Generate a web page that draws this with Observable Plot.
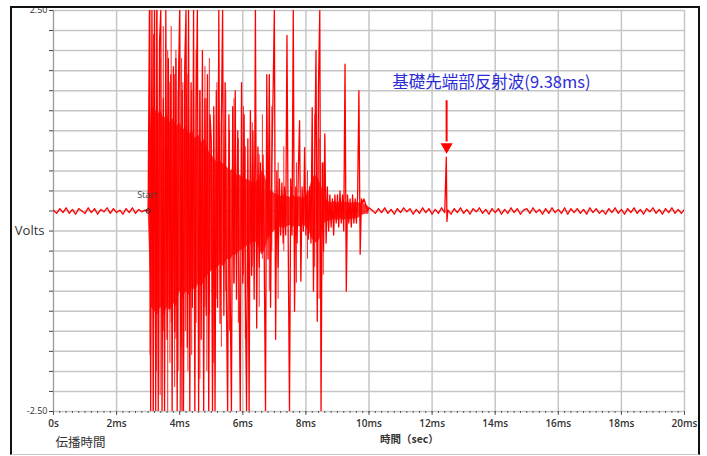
<!DOCTYPE html>
<html>
<head>
<meta charset="utf-8">
<script src="https://cdn.jsdelivr.net/npm/d3@7"></script>
<script src="https://cdn.jsdelivr.net/npm/@observablehq/plot@0.6"></script>
<style>
  html, body { margin: 0; padding: 0; background: #fff; }
  #wrap { position: relative; width: 707px; height: 456px; overflow: hidden; }
  #wrap svg { position: absolute; left: 0; top: 0; }
  #frame { position: absolute; left: 10px; top: 6px; width: 690px; height: 449px; box-sizing: border-box;
           border-left: 2px solid #111; border-top: 2px solid #111; border-right: 2px solid #111; border-bottom: 1px solid #c8c8c8;
           pointer-events: none; }
</style>
</head>
<body>
<div id="wrap"><div id="frame"></div></div>
<script>
// ---- data ----
// pre-trigger noise, sampled every 0.1 ms from 0 ms
const preStart = 0.0, preDt = 0.1;
const preNoise = [0.01,-0.03,0.03,-0.02,0.04,-0.03,0.02,-0.04,0.03,0.00,
                  -0.03,0.04,-0.02,0.03,-0.04,0.02,-0.01,0.04,-0.03,0.03,
                  -0.02,0.01,-0.04,0.03,-0.02,0.04,-0.03,0.02,-0.01,0.01];
// burst, sampled every 0.04 ms from 3.00 ms
const burstStart = 3.0, burstDt = 0.04;
const burstV = [
  0, 2.5, -2.5, 2.5, -2.5,
  2.5, -2.5, 2.5, -2.5, 2.1,
  2.5, -2.5, 1.4, -2.5, 2.5,
  -1.6, 1.9, -1.2, 1.7, -2.5,
  1.8, -1.5, 1.9, -2.5, 1.6,
  2.5, -2.5, 1.5, -2.5, 1.8,
  2.5, -1.7, 2.5, -2.5, 1.6,
  -1.2, 2.5, -2.5, 1.3, 2.5,
  -2.5, 1.5, -1.6, 2.0, -2.5,
  1.4, -1.3, 1.7, -2.5, 1.2,
  0.9, -2.5, 1.3, -2.5, 1.5,
  -1.2, 2.5, -1.4, 1.1, 2.5,
  -1.3, 1.6, -1.1, -2.5, 1.2,
  -1.0, -2.5, 1.3, -0.9, 1.5,
  -1.1, 1.0, -0.8, -2.5, 1.6,
  -0.9, 1.2, -1.0, -2.5, 0.9,
  -2.5, 1.25, -0.8, 1.0, -1.1,
  2.5, -1.46, 0.8, -0.7, 0.6,
  -0.5, 0.7, -0.6, -2.5, 1.7,
  -0.6, 1.7, -1.2, 0.6, 1.46,
  2.5, -1.6, 0.5, -0.7, 0.4,
  -0.3, 0.35, -0.4, 0.3, -0.3,
  2.19, -0.4, -2.5, 0.4, -0.3,
  2.5, -1.25, 0.3, -0.4, 0.5,
  1.125, -0.875, 0.3, -0.25, 0.79,
  -0.3, 0.25, -0.35, 0.3, -0.4,
  1.29, -1.0, 0.6, 2.0, -1.375,
  1.58, 2.5, -2.5, 0.6, -0.5,
  0.96, -0.4, 0.3, -0.25, 0.2,
  -0.2, 0.15, -0.3, 0.2, -0.15,
  0.2, -0.2, 0.25, -0.15, 0.2,
  -0.25, 1.83, -1.0, 0.2, -0.15,
  0.15, -0.2, 0.2, -0.15, 0.15,
  -0.15, 0.2, 1.5, -0.54, 0.15,
  0.1, 0.15, 0.1, 0.05, 0.0
];
// extra individual spikes inside the burst: time (ms), top (V), bottom (V)
const spikeT  = [3.06, 3.17, 3.26, 3.38, 3.48, 3.62, 3.69, 3.73, 3.84, 3.88, 3.95, 4.06, 4.10, 4.18, 4.26, 4.38, 4.52, 4.64, 4.80, 4.86, 4.94,
                 5.08, 5.18, 5.32, 5.46, 5.58, 5.72, 5.86, 6.02, 6.08, 6.30, 6.52, 6.62, 6.84, 6.92, 7.12, 7.30, 7.70, 8.05, 8.28, 8.42, 8.55];
const spikeHi = [2.5, 2.2, 2.5, 1.9, 2.3, 2.0, 1.6, 2.3, 1.7, 2.0, 1.5, 1.9, 1.6, 2.1, 1.7, 1.5, 2.0, 1.5, 1.8, 1.4, 1.9,
                 1.2, 1.6, 1.1, 1.5, 1.0, 1.4, 0.9, 1.3, 0.8, 1.1, 0.7, 1.2, 0.9, 1.3, 0.6, 0.8, 0.6, 0.5, 1.2, 0.9, 0.6];
const spikeLo = [-1.8, -2.5, -2.0, -2.3, -1.5, -2.5, -1.9, -1.4, -2.2, -1.6, -2.0, -1.7, -2.5, -1.5, -2.0, -1.8, -1.4, -2.1, -1.2, -2.0, -1.3,
                 -1.9, -1.1, -1.7, -1.0, -1.5, -0.9, -1.4, -0.8, -1.6, -0.7, -1.2, -0.6, -1.0, -0.5, -1.1, -0.5, -0.9, -0.6, -0.7, -1.1, -0.8];
// dense body of the burst: time (ms), upper and lower edge (V)
const bodyT  = [3.0, 3.1, 3.2, 3.3, 3.4, 3.5, 3.6, 3.7, 3.8, 3.9,
                4.0, 4.1, 4.2, 4.3, 4.4, 4.5, 4.6, 4.7, 4.8, 4.9,
                5.0, 5.1, 5.2, 5.3, 5.4, 5.5, 5.6, 5.7, 5.8, 5.9,
                6.0, 6.1, 6.2, 6.3, 6.4, 6.5, 6.6, 6.7, 6.8, 6.9,
                7.0, 7.1, 7.2, 7.3, 7.4, 7.5, 7.6, 7.7, 7.8, 7.9,
                8.0, 8.1, 8.2, 8.3, 8.4, 8.5, 8.6, 8.7, 8.8, 8.9,
                9.0, 9.1, 9.2, 9.3, 9.4, 9.5, 9.6, 9.7, 9.8, 9.9, 10.0];
const bodyHi = [0.0, 1.25, 1.3, 1.2, 1.25, 1.15, 1.2, 1.1, 1.15, 1.05,
                1.1, 1.0, 1.05, 0.95, 1.0, 0.9, 0.95, 0.85, 0.9, 0.75,
                0.7, 0.65, 0.6, 0.62, 0.58, 0.55, 0.5, 0.52, 0.45, 0.45,
                0.42, 0.4, 0.38, 0.35, 0.35, 0.4, 0.5, 0.45, 0.3, 0.25,
                0.22, 0.2, 0.18, 0.2, 0.18, 0.17, 0.2, 0.16, 0.18, 0.15,
                0.18, 0.25, 0.4, 0.45, 0.4, 0.3, 0.15, 0.12, 0.1, 0.12,
                0.1, 0.12, 0.1, 0.11, 0.1, 0.1, 0.11, 0.1, 0.09, 0.08, 0.05];
const bodyLo = [0.0, -1.2, -1.25, -1.3, -1.2, -1.3, -1.2, -1.25, -1.15, -1.2,
                -1.0, -1.1, -1.0, -1.05, -0.95, -1.0, -0.9, -0.95, -0.85, -0.8,
                -0.75, -0.7, -0.72, -0.65, -0.7, -0.6, -0.62, -0.55, -0.55, -0.5,
                -0.48, -0.45, -0.42, -0.4, -0.38, -0.45, -0.55, -0.5, -0.35, -0.3,
                -0.25, -0.22, -0.2, -0.22, -0.2, -0.18, -0.2, -0.18, -0.2, -0.17,
                -0.2, -0.25, -0.35, -0.4, -0.38, -0.3, -0.15, -0.13, -0.12, -0.1,
                -0.12, -0.1, -0.12, -0.1, -0.11, -0.1, -0.1, -0.08, -0.05, -0.04, -0.04];
// post-burst noise, sampled every 0.1 ms from 10.0 ms
const postStart = 10.0, postDt = 0.1;
const postNoise = [
  0.04,0.01,-0.03,0.03,-0.02,0.04,-0.03,0.02,-0.04,0.03,
  -0.02,0.04,-0.01,0.03,-0.04,0.02,-0.03,0.04,-0.02,0.03,
  -0.04,0.02,-0.03,0.04,-0.02,0.01,-0.04,0.03,-0.02,0.04,
  -0.03,0.02,-0.04,0.03,-0.01,0.04,-0.03,0.02,-0.04,0.03,
  -0.02,0.03,-0.04,0.02,-0.03,0.04,-0.02,0.03,-0.04,0.01,
  0.03,-0.03,0.04,-0.02,0.02,-0.04,0.03,-0.03,0.04,-0.02,
  0.02,-0.03,0.04,-0.04,0.03,-0.02,0.03,-0.03,0.02,-0.04,
  0.04,-0.02,0.03,-0.03,0.01,-0.04,0.03,-0.02,0.04,-0.03,
  0.02,-0.04,0.03,-0.02,0.04,-0.03,0.02,-0.04,0.03,-0.01,
  0.04,-0.03,0.02,-0.04,0.03,-0.02,0.04,-0.03,0.02,-0.03,
  0.02
];
// reflected wave from the pile tip
const reflT = [12.45, 12.47];
const reflV = [0.67, -0.13];

const xTickValues = [0, 2, 4, 6, 8, 10, 12, 14, 16, 18, 20];
const xTickLabels = ["0s", "2ms", "4ms", "6ms", "8ms", "10ms", "12ms", "14ms", "16ms", "18ms", "20ms"];
const xMinorTicks = d3.range(0, 100.5, 1).map(d => d / 5);
const yTickValues = d3.range(-10, 10.5, 1).map(d => d / 4);
const yTickLabels = {"2.5": "2.50", "-2.5": "-2.50"};

const startT = 3.0;
const annText = "基礎先端部反射波(9.38ms)";
const annT = 12.46;
const xLabel = "時間（sec）";
const footLabel = "伝播時間";
const yLabel = "Volts";

// ---- build the series ----
const wave = [
  ...preNoise.map((v, i) => ({t: preStart + i * preDt, v})),
  ...burstV.map((v, i) => ({t: burstStart + i * burstDt, v})),
  ...postNoise.map((v, i) => ({t: postStart + i * postDt, v})),
  ...reflT.map((t, i) => ({t, v: reflV[i]}))
].sort((a, b) => a.t - b.t);
const spikes = spikeT.map((t, i) => ({t, hi: spikeHi[i], lo: spikeLo[i]}));
const body = bodyT.map((t, i) => ({t, hi: bodyHi[i], lo: bodyLo[i]}));

const gridColor = "#c6c6c6";
const txt = "#333";
const red = "#ff0000";

const chart = Plot.plot({
  width: 707,
  height: 456,
  marginLeft: 53,
  marginRight: 23,
  marginTop: 10,
  marginBottom: 45,
  style: {background: "transparent", fontFamily: "'Open Sans', 'Noto Sans CJK JP', sans-serif", color: txt},
  x: {domain: [0, 20], label: null},
  y: {domain: [-2.5, 2.5], label: null},
  marks: [
    Plot.ruleX(xTickValues, {stroke: gridColor, strokeWidth: 1.5, strokeOpacity: 1}),
    Plot.ruleY(yTickValues, {stroke: gridColor, strokeWidth: 1.5, strokeOpacity: 1}),
    Plot.ruleX([0], {stroke: "#999"}),
    Plot.axisY(yTickValues, {tickSize: 4, tickPadding: 2, stroke: "#444", fontSize: 9, fill: txt,
      tickFormat: d => yTickLabels[String(d)] || "", label: null}),
    Plot.axisX(xMinorTicks, {tickSize: 2, tickPadding: 0, stroke: "#555", tickFormat: () => "", label: null}),
    Plot.axisX(xTickValues, {tickSize: 4, tickPadding: 4, stroke: "#555", fontSize: 10, fontWeight: 600, fill: txt,
      tickFormat: d => xTickLabels[xTickValues.indexOf(d)], label: null}),
    Plot.areaY(body, {x: "t", y1: "lo", y2: "hi", fill: red, fillOpacity: 0.8}),
    Plot.ruleX(spikes, {x: "t", y1: "lo", y2: "hi", stroke: red, strokeWidth: 1, strokeOpacity: 0.85}),
    Plot.line(wave, {x: "t", y: "v", stroke: red, strokeWidth: 1.3, clip: true}),
    Plot.dot([startT], {x: d => d, y: () => 0, r: 2.2, stroke: "#222", strokeWidth: 1}),
    Plot.text(["Start"], {x: () => startT, y: () => 0, dy: -16, dx: -1, text: d => d, fontSize: 9, fill: "#444"}),
    Plot.text([yLabel], {x: () => 0, y: () => -0.25, dx: -9, textAnchor: "end", text: d => d, fontSize: 13, fill: txt}),
    Plot.ruleX([annT], {y1: 1.375, y2: 0.86, stroke: red, strokeWidth: 2}),
    Plot.dot([annT], {x: d => d, y: () => 0.8, symbol: "triangle", r: 4.5, fill: red, rotate: 180}),
    Plot.text([annText], {x: () => 10.74, y: () => 1.6, textAnchor: "start", text: d => d, fontSize: 16.5,
      fill: "#2b2bd8", fontFamily: "'Noto Sans CJK JP', sans-serif"}),
    Plot.text([xLabel], {x: () => 11.28, frameAnchor: "bottom", dy: 31, text: d => d, fontSize: 10.5, fontWeight: 600,
      fill: "#333", fontFamily: "'Noto Sans CJK JP', sans-serif"}),
    Plot.text([footLabel], {x: () => 0.06, frameAnchor: "bottom", dy: 35, textAnchor: "start", text: d => d, fontSize: 12.5,
      fill: "#333", fontFamily: "'Noto Sans CJK JP', sans-serif"})
  ]
});
document.getElementById("wrap").insertBefore(chart, document.getElementById("frame"));
</script>
</body>
</html>
